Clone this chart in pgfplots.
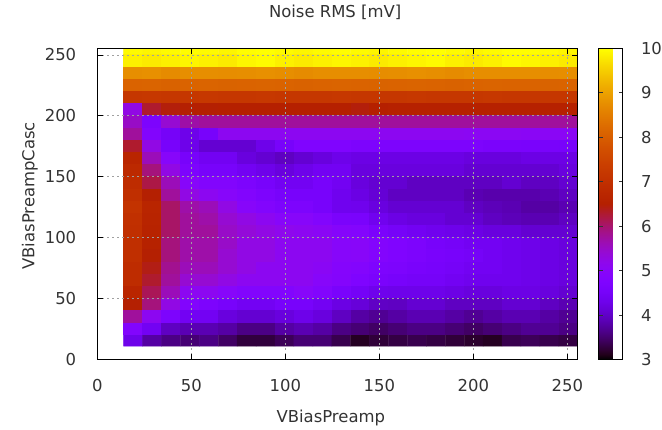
\documentclass[border=0pt]{standalone}
\usepackage{pgfplots}
\pgfplotsset{compat=1.18}
\usepackage{pgfplotstable}
\usepackage{fontspec}
\setmainfont{DejaVu Sans}

\pgfplotstableread{
x y c
19.0 16 4.30
29.1 16 3.78
39.2 16 3.61
49.2 16 3.53
59.3 16 3.61
69.3 16 3.45
79.4 16 3.27
89.5 16 3.27
99.5 16 3.39
109.6 16 3.53
119.7 16 3.53
129.7 16 3.35
139.8 16 3.15
149.8 16 3.25
159.9 16 3.30
170.0 16 3.35
180.0 16 3.30
190.1 16 3.25
200.2 16 3.20
210.2 16 3.15
220.3 16 3.35
230.3 16 3.40
240.4 16 3.35
250.5 16 3.30
19.0 26 4.82
29.1 26 4.42
39.2 26 3.97
49.2 26 3.87
59.3 26 3.87
69.3 26 3.78
79.4 26 3.61
89.5 26 3.61
99.5 26 3.78
109.6 26 3.87
119.7 26 3.78
129.7 26 3.61
139.8 26 3.53
149.8 26 3.45
159.9 26 3.53
170.0 26 3.61
180.0 26 3.61
190.1 26 3.53
200.2 26 3.45
210.2 26 3.53
220.3 26 3.61
230.3 26 3.69
240.4 26 3.69
250.5 26 3.61
19.0 36 5.76
29.1 36 5.11
39.2 36 4.68
49.2 36 4.42
59.3 36 4.42
69.3 36 4.19
79.4 36 4.08
89.5 36 4.08
99.5 36 4.19
109.6 36 4.30
119.7 36 4.19
129.7 36 3.97
139.8 36 3.78
149.8 36 3.69
159.9 36 3.78
170.0 36 3.87
180.0 36 3.87
190.1 36 3.78
200.2 36 3.69
210.2 36 3.78
220.3 36 3.87
230.3 36 3.87
240.4 36 3.78
250.5 36 3.69
19.0 46 6.49
29.1 46 5.93
39.2 46 5.26
49.2 46 4.82
59.3 46 4.68
69.3 46 4.55
79.4 46 4.42
89.5 46 4.42
99.5 46 4.55
109.6 46 4.55
119.7 46 4.42
129.7 46 4.24
139.8 46 4.14
149.8 46 3.99
159.9 46 3.97
170.0 46 4.08
180.0 46 4.08
190.1 46 3.97
200.2 46 3.97
210.2 46 3.97
220.3 46 4.08
230.3 46 4.08
240.4 46 3.97
250.5 46 3.87
19.0 56 6.68
29.1 56 6.11
39.2 56 5.59
49.2 56 5.11
59.3 56 5.11
69.3 56 4.96
79.4 56 4.82
89.5 56 4.82
99.5 56 4.82
109.6 56 4.96
119.7 56 4.82
129.7 56 4.60
139.8 56 4.48
149.8 56 4.32
159.9 56 4.30
170.0 56 4.30
180.0 56 4.30
190.1 56 4.25
200.2 56 4.19
210.2 56 4.19
220.3 56 4.25
230.3 56 4.25
240.4 56 4.19
250.5 56 4.08
19.0 66 6.89
29.1 66 6.30
39.2 66 5.76
49.2 66 5.42
59.3 66 5.42
69.3 66 5.26
79.4 66 5.11
89.5 66 5.11
99.5 66 5.11
109.6 66 5.11
119.7 66 4.96
129.7 66 4.88
139.8 66 4.74
149.8 66 4.62
159.9 66 4.55
170.0 66 4.50
180.0 66 4.50
190.1 66 4.42
200.2 66 4.35
210.2 66 4.35
220.3 66 4.35
230.3 66 4.30
240.4 66 4.25
250.5 66 4.19
19.0 76 6.89
29.1 76 6.41
39.2 76 5.83
49.2 76 5.59
59.3 76 5.59
69.3 76 5.42
79.4 76 5.26
89.5 76 5.11
99.5 76 5.11
109.6 76 5.11
119.7 76 5.05
129.7 76 4.90
139.8 76 4.86
149.8 76 4.70
159.9 76 4.68
170.0 76 4.60
180.0 76 4.55
190.1 76 4.50
200.2 76 4.42
210.2 76 4.42
220.3 76 4.35
230.3 76 4.30
240.4 76 4.25
250.5 76 4.19
19.0 86 6.97
29.1 86 6.49
39.2 86 5.93
49.2 86 5.69
59.3 86 5.69
69.3 86 5.42
79.4 86 5.26
89.5 86 5.26
99.5 86 5.11
109.6 86 5.11
119.7 86 5.11
129.7 86 4.96
139.8 86 4.98
149.8 86 4.84
159.9 86 4.76
170.0 86 4.68
180.0 86 4.60
190.1 86 4.55
200.2 86 4.50
210.2 86 4.42
220.3 86 4.35
230.3 86 4.30
240.4 86 4.25
250.5 86 4.19
19.0 96 6.97
29.1 96 6.57
39.2 96 5.93
49.2 96 5.69
59.3 96 5.69
69.3 96 5.49
79.4 96 5.26
89.5 96 5.26
99.5 96 5.11
109.6 96 5.11
119.7 96 5.11
129.7 96 4.96
139.8 96 4.98
149.8 96 4.84
159.9 96 4.76
170.0 96 4.68
180.0 96 4.55
190.1 96 4.50
200.2 96 4.42
210.2 96 4.42
220.3 96 4.35
230.3 96 4.30
240.4 96 4.25
250.5 96 4.19
19.0 106 6.97
29.1 106 6.61
39.2 106 6.04
49.2 106 5.76
59.3 106 5.76
69.3 106 5.49
79.4 106 5.36
89.5 106 5.26
99.5 106 5.17
109.6 106 5.11
119.7 106 5.05
129.7 106 4.92
139.8 106 4.86
149.8 106 4.62
159.9 106 4.50
170.0 106 4.42
180.0 106 4.35
190.1 106 4.30
200.2 106 4.25
210.2 106 4.19
220.3 106 4.19
230.3 106 4.08
240.4 106 4.08
250.5 106 4.08
19.0 116 7.01
29.1 116 6.64
39.2 116 6.04
49.2 116 5.76
59.3 116 5.69
69.3 116 5.42
79.4 116 5.26
89.5 116 5.11
99.5 116 4.96
109.6 116 4.96
119.7 116 4.82
129.7 116 4.62
139.8 116 4.60
149.8 116 4.37
159.9 116 4.25
170.0 116 4.19
180.0 116 4.19
190.1 116 4.08
200.2 116 4.08
210.2 116 3.97
220.3 116 3.91
230.3 116 3.87
240.4 116 3.87
250.5 116 3.97
19.0 126 7.09
29.1 126 6.68
39.2 126 6.04
49.2 126 5.69
59.3 126 5.59
69.3 126 5.26
79.4 126 4.96
89.5 126 4.82
99.5 126 4.68
109.6 126 4.68
119.7 126 4.55
129.7 126 4.36
139.8 126 4.34
149.8 126 4.20
159.9 126 4.08
170.0 126 4.08
180.0 126 4.08
190.1 126 4.08
200.2 126 3.97
210.2 126 3.91
220.3 126 3.87
230.3 126 3.78
240.4 126 3.78
250.5 126 3.87
19.0 136 6.97
29.1 136 6.49
39.2 136 5.76
49.2 136 5.26
59.3 136 5.11
69.3 136 4.96
79.4 136 4.82
89.5 136 4.68
99.5 136 4.55
109.6 136 4.55
119.7 136 4.55
129.7 136 4.36
139.8 136 4.24
149.8 136 4.10
159.9 136 3.97
170.0 136 3.97
180.0 136 3.97
190.1 136 3.97
200.2 136 3.87
210.2 136 3.83
220.3 136 3.83
230.3 136 3.83
240.4 136 3.87
250.5 136 3.97
19.0 146 6.89
29.1 146 6.19
39.2 146 5.59
49.2 146 4.96
59.3 146 4.82
69.3 146 4.82
79.4 146 4.68
89.5 146 4.55
99.5 146 4.42
109.6 146 4.42
119.7 146 4.55
129.7 146 4.42
139.8 146 4.19
149.8 146 4.08
159.9 146 4.08
170.0 146 3.97
180.0 146 3.97
190.1 146 3.97
200.2 146 3.97
210.2 146 3.97
220.3 146 4.08
230.3 146 3.97
240.4 146 3.97
250.5 146 4.08
19.0 156 6.80
29.1 156 5.93
39.2 156 5.26
49.2 156 4.68
59.3 156 4.55
69.3 156 4.55
79.4 156 4.42
89.5 156 4.30
99.5 156 4.19
109.6 156 4.30
119.7 156 4.42
129.7 156 4.42
139.8 156 4.19
149.8 156 4.19
159.9 156 4.19
170.0 156 4.19
180.0 156 4.19
190.1 156 4.19
200.2 156 4.08
210.2 156 4.08
220.3 156 4.08
230.3 156 4.08
240.4 156 4.08
250.5 156 4.19
19.0 166 6.68
29.1 166 5.59
39.2 166 4.96
49.2 166 4.55
59.3 166 4.42
69.3 166 4.42
79.4 166 4.19
89.5 166 4.08
99.5 166 3.97
109.6 166 4.08
119.7 166 4.19
129.7 166 4.30
139.8 166 4.25
149.8 166 4.25
159.9 166 4.25
170.0 166 4.25
180.0 166 4.25
190.1 166 4.25
200.2 166 4.19
210.2 166 4.19
220.3 166 4.19
230.3 166 4.25
240.4 166 4.25
250.5 166 4.25
19.0 176 6.30
29.1 176 5.26
39.2 176 4.55
49.2 176 4.30
59.3 176 4.08
69.3 176 4.08
79.4 176 4.08
89.5 176 4.30
99.5 176 4.55
109.6 176 4.76
119.7 176 4.76
129.7 176 4.76
139.8 176 4.68
149.8 176 4.68
159.9 176 4.68
170.0 176 4.68
180.0 176 4.68
190.1 176 4.68
200.2 176 4.68
210.2 176 4.62
220.3 176 4.62
230.3 176 4.60
240.4 176 4.58
250.5 176 4.55
19.0 186 5.76
29.1 186 4.82
39.2 186 4.50
49.2 186 4.30
59.3 186 4.55
69.3 186 5.11
79.4 186 5.11
89.5 186 5.11
99.5 186 5.11
109.6 186 5.11
119.7 186 5.11
129.7 186 5.11
139.8 186 5.11
149.8 186 5.11
159.9 186 5.11
170.0 186 5.11
180.0 186 5.11
190.1 186 5.11
200.2 186 5.08
210.2 186 5.08
220.3 186 5.08
230.3 186 5.05
240.4 186 5.05
250.5 186 5.05
19.0 196 5.50
29.1 196 4.68
39.2 196 5.42
49.2 196 5.70
59.3 196 5.76
69.3 196 5.76
79.4 196 5.76
89.5 196 5.76
99.5 196 5.76
109.6 196 5.76
119.7 196 5.76
129.7 196 5.76
139.8 196 5.76
149.8 196 5.76
159.9 196 5.76
170.0 196 5.76
180.0 196 5.76
190.1 196 5.76
200.2 196 5.76
210.2 196 5.76
220.3 196 5.76
230.3 196 5.76
240.4 196 5.76
250.5 196 5.76
19.0 206 5.26
29.1 206 6.30
39.2 206 6.45
49.2 206 6.49
59.3 206 6.49
69.3 206 6.52
79.4 206 6.52
89.5 206 6.52
99.5 206 6.52
109.6 206 6.52
119.7 206 6.52
129.7 206 6.52
139.8 206 6.45
149.8 206 6.52
159.9 206 6.55
170.0 206 6.55
180.0 206 6.55
190.1 206 6.55
200.2 206 6.55
210.2 206 6.55
220.3 206 6.55
230.3 206 6.55
240.4 206 6.55
250.5 206 6.55
19.0 216 7.20
29.1 216 7.22
39.2 216 7.18
49.2 216 7.20
59.3 216 7.21
69.3 216 7.19
79.4 216 7.20
89.5 216 7.22
99.5 216 7.20
109.6 216 7.18
119.7 216 7.20
129.7 216 7.21
139.8 216 7.20
149.8 216 7.19
159.9 216 7.20
170.0 216 7.22
180.0 216 7.20
190.1 216 7.18
200.2 216 7.20
210.2 216 7.21
220.3 216 7.20
230.3 216 7.20
240.4 216 7.19
250.5 216 7.20
19.0 226 8.10
29.1 226 8.12
39.2 226 8.08
49.2 226 8.10
59.3 226 8.11
69.3 226 8.09
79.4 226 8.10
89.5 226 8.12
99.5 226 8.10
109.6 226 8.08
119.7 226 8.10
129.7 226 8.11
139.8 226 8.10
149.8 226 8.09
159.9 226 8.10
170.0 226 8.12
180.0 226 8.10
190.1 226 8.08
200.2 226 8.10
210.2 226 8.11
220.3 226 8.10
230.3 226 8.10
240.4 226 8.09
250.5 226 8.10
19.0 236 8.75
29.1 236 8.78
39.2 236 8.72
49.2 236 8.75
59.3 236 8.76
69.3 236 8.74
79.4 236 8.75
89.5 236 8.78
99.5 236 8.75
109.6 236 8.72
119.7 236 8.75
129.7 236 8.76
139.8 236 8.75
149.8 236 8.74
159.9 236 8.75
170.0 236 8.78
180.0 236 8.75
190.1 236 8.72
200.2 236 8.75
210.2 236 8.76
220.3 236 8.75
230.3 236 8.75
240.4 236 8.74
250.5 236 8.75
19.0 246 9.85
29.1 246 9.80
39.2 246 9.85
49.2 246 9.90
59.3 246 9.85
69.3 246 9.80
79.4 246 9.90
89.5 246 9.95
99.5 246 9.85
109.6 246 9.80
119.7 246 9.85
129.7 246 9.90
139.8 246 9.85
149.8 246 9.80
159.9 246 9.85
170.0 246 9.90
180.0 246 9.95
190.1 246 9.85
200.2 246 9.80
210.2 246 9.85
220.3 246 9.95
230.3 246 9.90
240.4 246 9.85
250.5 246 9.80
19.0 256 9.95
29.1 256 9.90
39.2 256 9.95
49.2 256 9.98
59.3 256 9.95
69.3 256 9.90
79.4 256 9.98
89.5 256 10.0
99.5 256 9.95
109.6 256 9.90
119.7 256 9.95
129.7 256 9.98
139.8 256 9.95
149.8 256 9.90
159.9 256 9.95
170.0 256 9.98
180.0 256 10.0
190.1 256 9.95
200.2 256 9.90
210.2 256 9.95
220.3 256 10.0
230.3 256 9.98
240.4 256 9.95
250.5 256 9.90
}\noisedata

\pgfplotsset{
  colormap={gnuplot}{
    rgb(0pt)=(0,0,0);
    rgb(0.5pt)=(0.125,0,0.098);
    rgb(1pt)=(0.1768,0,0.1951);
    rgb(2pt)=(0.25,0.0002,0.3827);
    rgb(3pt)=(0.3062,0.0008,0.5556);
    rgb(4pt)=(0.3536,0.002,0.7071);
    rgb(5pt)=(0.3953,0.0038,0.8315);
    rgb(6pt)=(0.4330,0.0066,0.9239);
    rgb(7pt)=(0.4677,0.0105,0.9808);
    rgb(8pt)=(0.5,0.0156,1);
    rgb(9pt)=(0.5303,0.0222,0.9808);
    rgb(10pt)=(0.5590,0.0305,0.9239);
    rgb(11pt)=(0.5863,0.0406,0.8315);
    rgb(12pt)=(0.6124,0.0527,0.7071);
    rgb(13pt)=(0.6374,0.0670,0.5556);
    rgb(14pt)=(0.6614,0.0837,0.3827);
    rgb(15pt)=(0.6847,0.1030,0.1951);
    rgb(16pt)=(0.7071,0.125,0);
    rgb(18pt)=(0.75,0.1780,0);
    rgb(20pt)=(0.7906,0.2441,0);
    rgb(22pt)=(0.8292,0.3250,0);
    rgb(24pt)=(0.8660,0.4219,0);
    rgb(26pt)=(0.9014,0.5364,0);
    rgb(28pt)=(0.9354,0.6699,0);
    rgb(30pt)=(0.9682,0.8240,0);
    rgb(32pt)=(1,1,0)
  }
}

\begin{document}
\fontsize{16.5}{19}\selectfont
\begin{tikzpicture}
\begin{axis}[
  name=ax,
  scale only axis,
  width=480.3bp, height=311.2bp,
  xmin=0, xmax=255.5, ymin=0, ymax=255.5,
  xtick={0,50,...,250}, ytick={0,50,...,250},
  axis on top,
  grid=major,
  major grid style={color={rgb,255:red,160;green,160;blue,160}, line width=0.8bp, dash pattern=on 2bp off 3bp},
  axis line style={black, line width=0.9bp},
  tick style={black, line width=0.9bp},
  major tick length=6bp,
  /pgf/number format/assume math mode=true,
  xticklabel style={inner sep=0pt, anchor=north, yshift=-19.5bp, text=black!80},
  yticklabel style={inner sep=0pt, anchor=east, xshift=-21bp, text=black!80},
  title={Noise RMS [mV]},
  title style={at={(axis description cs:0.495,1.0803)}, anchor=base, inner sep=0pt, text=black!80},
  xlabel={VBiasPreamp},
  xlabel style={at={(axis description cs:0.486,-0.2018)}, anchor=base, inner sep=0pt, text=black!80},
  ylabel={VBiasPreampCasc},
  ylabel style={at={(axis description cs:-0.1314,0.526)}, anchor=base, inner sep=0pt, text=black!80},
  colormap name=gnuplot,
  point meta min=3, point meta max=10,
  colorbar,
  colorbar style={
    at={(parent axis.north east)}, anchor=north west, xshift=12.3bp,
    width=24.3bp,
    ytick={3,4,...,10},
    ytick pos=both,
    yticklabel pos=right,
    major tick length=4bp,
    axis line style={black, line width=0.8bp},
    tick style={black!80, line width=0.8bp},
    /pgf/number format/assume math mode=true,
    yticklabel style={inner sep=0pt, anchor=west, xshift=18bp, text=black!80},
  },
]
\addplot[matrix plot*, mesh/cols=24, point meta=explicit] table[x=x, y=y, meta=c] {\noisedata};
\end{axis}
\path ([xshift=-97.4bp,yshift=-70.5bp]ax.south west) rectangle ([xshift=84.3bp,yshift=48.3bp]ax.north east);
\end{tikzpicture}
\end{document}
